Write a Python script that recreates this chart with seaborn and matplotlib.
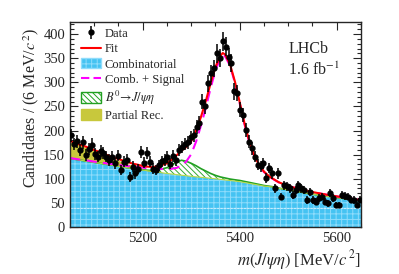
import numpy as np
import pandas as pd
import seaborn as sns
import matplotlib.pyplot as plt
from matplotlib.patches import Patch
from matplotlib.lines import Line2D
from matplotlib.ticker import MultipleLocator

# data: candidates per 6 MeV bin, 5050-5650 MeV
bin_lo = 5050
bin_w = 6
counts = [190, 172, 178, 160, 176, 150, 162, 171, 152, 146,
          157, 153, 146, 139, 145, 132, 148, 118, 135, 139,
          104, 125, 111, 120, 156, 133, 153, 135, 121, 118,
          128, 136, 139, 145, 131, 147, 138, 160, 166, 172,
          176, 186, 190, 208, 215, 260, 250, 298, 319, 329,
          360, 350, 385, 374, 353, 340, 281, 277, 243, 232,
          201, 177, 163, 146, 129, 126, 132, 101, 122, 111,
          80, 111, 63, 87, 84, 80, 66, 77, 87, 80,
          77, 56, 73, 56, 52, 60, 63, 52, 49, 70,
          60, 46, 46, 66, 64, 63, 57, 56, 46, 57]

# fit components
curve_m = [5050, 5060, 5070, 5080, 5090, 5100, 5110, 5120, 5130, 5140,
           5150, 5160, 5170, 5180, 5190, 5200, 5210, 5220, 5230, 5240,
           5250, 5260, 5270, 5280, 5290, 5300, 5310, 5320, 5330, 5340,
           5350, 5360, 5365, 5370, 5380, 5390, 5400, 5410, 5420, 5430,
           5440, 5450, 5460, 5470, 5480, 5490, 5500, 5510, 5520, 5530,
           5540, 5550, 5560, 5570, 5580, 5590, 5600, 5610, 5620, 5630,
           5640, 5650]
comb = [142, 140.4, 138.8, 137.2, 135.6, 134, 132.4, 130.8, 129.2, 127.6,
        126, 124.4, 122.8, 121.2, 119.6, 118, 116.6, 115.2, 113.8, 112.4,
        111, 109.8, 108.6, 107.4, 106.2, 105, 104, 103, 102, 101,
        100, 98.8, 98.2, 97.6, 96.4, 95.2, 94, 92.2, 90.4, 88.6,
        86.8, 85, 83.8, 82.6, 80.2, 78.6, 77, 75.2, 73.4, 71.6,
        69.8, 68, 66.6, 65.2, 63.8, 62.4, 61, 59.6, 58.2, 56.8,
        55.4, 54]
partial = [35, 33, 31, 29, 26.5, 24, 21.5, 19, 16.5, 14,
           12, 10, 8, 6, 4.5, 3, 2, 1.2, 0.6, 0.3,
           0, 0, 0, 0, 0, 0, 0, 0, 0, 0,
           0, 0, 0, 0, 0, 0, 0, 0, 0, 0,
           0, 0, 0, 0, 0, 0, 0, 0, 0, 0,
           0, 0, 0, 0, 0, 0, 0, 0, 0, 0,
           0, 0]
b0 = [0, 0, 0, 0, 0, 0, 0, 0, 0, 0,
      0, 0, 0, 0, 0.5, 0.5, 1, 2, 4, 8,
      12, 19, 26, 31, 30, 27, 23, 18, 14, 10,
      7, 5, 4.5, 4, 3, 2.7, 2.5, 2.2, 2, 1.7,
      1.4, 1, 0.8, 0.6, 0.4, 0.3, 0.2, 0, 0, 0,
      0, 0, 0, 0, 0, 0, 0, 0, 0, 0,
      0, 0]
bs = [1, 1, 1, 1.5, 1.5, 1.5, 2, 2, 2, 2.5,
      3, 3, 3.5, 4, 4.5, 5, 5.5, 6, 7, 8,
      9, 11, 14, 20, 30, 46, 73, 107, 145, 187,
      225, 251, 258, 256, 238, 204, 162, 120, 84, 58,
      40, 29, 21, 16, 12.5, 10, 8, 7, 6, 5.5,
      5, 4.5, 4, 3.5, 3, 3, 2.5, 2.5, 2, 2,
      1.5, 1.5]

df = pd.DataFrame({"m": bin_lo + bin_w * (np.arange(len(counts)) + 0.5), "n": counts})
cv = pd.DataFrame({"m": curve_m, "comb": comb, "part": partial, "b0": b0, "bs": bs})
cv["fit"] = cv.comb + cv.part + cv.b0 + cv.bs
cv["comb_sig"] = cv.comb + cv.bs

sns.set_theme(style="ticks")
plt.rcParams["font.family"] = ["Liberation Serif", "DejaVu Serif"]
plt.rcParams["mathtext.fontset"] = "stix"
plt.rcParams["hatch.linewidth"] = 0.7

fig = plt.figure(figsize=(3.99, 2.74), dpi=100)
ax = fig.add_axes([0.1754, 0.1715, 0.7293, 0.7482])

cyan = "#45c3f2"
green_hatch = "\\\\\\\\\\\\"
ax.fill_between(cv.m, 0, cv.comb, facecolor=cyan, edgecolor="#8fdcfb", hatch="+++", lw=0)
ax.axhline(40, color="#c4ecfd", lw=0.8, ls=(0, (2, 1)), zorder=1.5)
ax.fill_between(cv.m, cv.comb, cv.comb + cv.part, facecolor="#c8c83c", lw=0)
ax.fill_between(cv.m, cv.comb, cv.comb + cv.b0, facecolor="white", edgecolor="#33aa33",
                hatch=green_hatch, lw=0)
sns.lineplot(x=cv.m, y=cv.comb + cv.b0, ax=ax, color="#22a022", lw=1.2)
sns.lineplot(x=cv.m, y=cv.comb, ax=ax, color="#b8d84a", lw=0.8)
sns.lineplot(x=cv.m, y=cv.comb_sig, ax=ax, color="#ff00ff", lw=1.5)
ax.lines[-1].set_linestyle((0, (5, 3)))
sns.lineplot(x=cv.m, y=cv.fit, ax=ax, color="red", lw=1.5)

eb = ax.errorbar(df.m, df.n, yerr=np.sqrt(df.n), fmt="o", ms=3.5, color="black",
                 ecolor="black", elinewidth=1.1, capsize=0, zorder=5)

ax.set_xlim(5050, 5650)
ax.set_ylim(0, 425)
ax.xaxis.set_major_locator(MultipleLocator(200))
ax.xaxis.set_minor_locator(MultipleLocator(50))
ax.yaxis.set_major_locator(MultipleLocator(50))
ax.yaxis.set_minor_locator(MultipleLocator(10))
ax.tick_params(which="both", direction="in", top=True, right=True, labelsize=10.5, width=0.8)
ax.tick_params(which="major", length=6)
ax.tick_params(which="minor", length=3)
for s in ax.spines.values():
    s.set_linewidth(1)

ax.set_xlabel(r"$m(J/\psi\eta)$ [MeV/$c^{\,2}$]", fontsize=12, ha="right", x=1.0)
ax.set_ylabel(r"Candidates / (6 MeV/$c^{\,2}$)", fontsize=11.5, ha="right", y=1.0)
ax.xaxis.set_label_coords(1.0, -0.10)
ax.yaxis.set_label_coords(-0.10, 0.975)

ax.text(0.75, 0.85, "LHCb", transform=ax.transAxes, fontsize=11.5)
ax.text(0.75, 0.74, r"1.6 fb$^{-1}$", transform=ax.transAxes, fontsize=11.5)

handles = [eb,
           Line2D([], [], color="red", lw=1.5),
           Patch(facecolor=cyan, edgecolor="#8fdcfb", hatch="+++"),
           Line2D([], [], color="#ff00ff", lw=1.5, ls=(0, (4, 2))),
           Patch(facecolor="white", edgecolor="#22a022", hatch=green_hatch, lw=1),
           Patch(facecolor="#c8c83c", edgecolor="#c8c83c")]
labels = ["Data", "Fit", "Combinatorial", "Comb. + Signal",
          r"$B^0\!\rightarrow\! J/\psi\eta$", "Partial Rec."]
ax.legend(handles, labels, loc="upper left", bbox_to_anchor=(0.03, 0.985), frameon=False,
          fontsize=9, handlelength=1.6, handleheight=0.9, handletextpad=0.3,
          labelspacing=0.22, borderaxespad=0, borderpad=0.2)

fig.savefig("out.png", dpi=100)
